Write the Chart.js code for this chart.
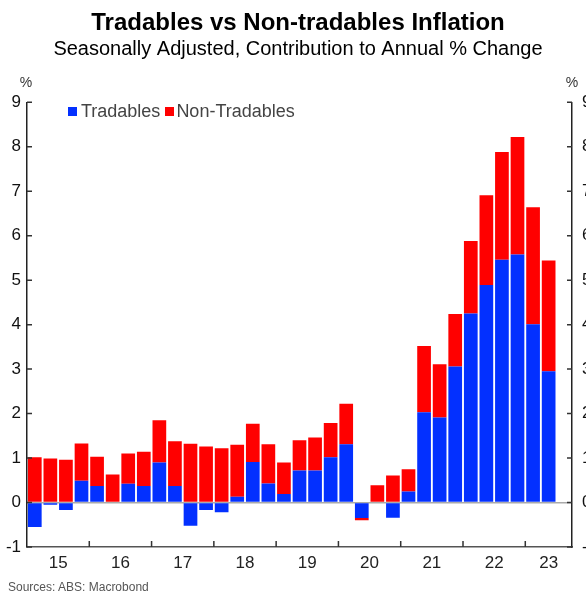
<!DOCTYPE html>
<html>
<head>
<meta charset="utf-8">
<script src="https://cdn.jsdelivr.net/npm/chart.js@4"></script>
<style>
    body { margin: 0; width: 586px; height: 592px; overflow: hidden; background: #fff; position: relative;
           font-family: "Liberation Sans", Arial, sans-serif; }
    #chart { position: absolute; left: 0; top: 0; }
    .unit { position: absolute; top: 74px; font-size: 14px; line-height: 16px; color: #333; transform: translateX(-50%); }
    #legend { position: absolute; left: 68px; top: 101px; font-size: 18px; line-height: 20px; color: #444;
              display: flex; align-items: center; white-space: nowrap; }
    .sw { display: inline-block; width: 9px; height: 9px; }
    #source { position: absolute; left: 8px; top: 580px; font-size: 12px; line-height: 14px; color: #555; }
</style>
</head>
<body>
<canvas id="chart" width="596" height="592"></canvas>
<div class="unit" style="left:26px">%</div>
<div class="unit" style="left:572px">%</div>
<div id="legend"></div>
<div id="source">Sources: ABS: Macrobond</div>
<script>
const quarters = [
    '2015Q1', '2015Q2', '2015Q3', '2015Q4',
    '2016Q1', '2016Q2', '2016Q3', '2016Q4',
    '2017Q1', '2017Q2', '2017Q3', '2017Q4',
    '2018Q1', '2018Q2', '2018Q3', '2018Q4',
    '2019Q1', '2019Q2', '2019Q3', '2019Q4',
    '2020Q1', '2020Q2', '2020Q3', '2020Q4',
    '2021Q1', '2021Q2', '2021Q3', '2021Q4',
    '2022Q1', '2022Q2', '2022Q3', '2022Q4',
    '2023Q1', '2023Q2'
];

const tradables = [
    -0.55, -0.05, -0.17, 0.49,
    0.37, 0.00, 0.42, 0.37,
    0.90, 0.37, -0.52, -0.17,
    -0.22, 0.13, 0.91, 0.43,
    0.19, 0.72, 0.72, 1.02,
    1.31, -0.35, 0.00, -0.34,
    0.25, 2.03, 1.91, 3.06,
    4.25, 4.89, 5.46, 5.58,
    4.01, 2.95
];

const nonTradables = [
    1.02, 0.99, 0.96, 0.84,
    0.66, 0.63, 0.68, 0.77,
    0.95, 1.01, 1.32, 1.26,
    1.22, 1.17, 0.86, 0.88,
    0.71, 0.68, 0.74, 0.77,
    0.91, -0.05, 0.39, 0.61,
    0.50, 1.49, 1.20, 1.18,
    1.63, 2.02, 2.42, 2.64,
    2.63, 2.49
];

const years = ['15', '16', '17', '18', '19', '20', '21', '22', '23'];
const seriesNames = ['Tradables', 'Non-Tradables'];
const seriesColors = ['rgb(3, 48, 255)', 'rgb(255, 0, 0)'];

// one empty quarter after the last bar
const xMax = quarters.length + 1;

// year label sits in the middle of its (visible) four quarters
const yearTicks = years.map((y, k) => (4 * k + Math.min(4 * k + 4, xMax)) / 2);
const yearBounds = years.slice(1).map((y, k) => 4 * (k + 1));

const toPoints = arr => arr.map((v, i) => ({ x: i + 0.5, y: v }));

const fontFamily = '"Liberation Sans", Arial, sans-serif';
Chart.defaults.font.family = fontFamily;

// legend (html)
const legendEl = document.getElementById('legend');
seriesNames.forEach((name, i) => {
    const sw = document.createElement('span');
    sw.className = 'sw';
    sw.style.background = seriesColors[i];
    sw.style.marginLeft = i ? '5px' : '0';
    sw.style.marginRight = i ? '2px' : '4px';
    const txt = document.createElement('span');
    txt.textContent = name;
    legendEl.appendChild(sw);
    legendEl.appendChild(txt);
});

// tick marks point into the plot
const tickMarks = {
    id: 'tickMarks',
    afterDatasetsDraw(chart) {
        const ctx = chart.ctx;
        const area = chart.chartArea;
        const y = chart.scales.y;
        const x = chart.scales.x;
        ctx.save();
        ctx.strokeStyle = '#333';
        ctx.lineWidth = 1.5;
        ctx.beginPath();
        for (let v = -1; v <= 9; v++) {
            const py = y.getPixelForValue(v);
            ctx.moveTo(area.left, py);
            ctx.lineTo(area.left + 5, py);
            ctx.moveTo(area.right - 5, py);
            ctx.lineTo(area.right, py);
        }
        for (const b of yearBounds) {
            const px = x.getPixelForValue(b);
            ctx.moveTo(px, area.bottom - 6);
            ctx.lineTo(px, area.bottom);
        }
        ctx.stroke();
        ctx.restore();
    }
};

const data = {
    datasets: [{
        label: seriesNames[0],
        data: toPoints(tradables),
        backgroundColor: seriesColors[0],
        borderWidth: 0
    }, {
        label: seriesNames[1],
        data: toPoints(nonTradables),
        backgroundColor: seriesColors[1],
        borderWidth: 0
    }]
};

const options = {
    responsive: false,
    animation: false,
    barPercentage: 0.88,
    categoryPercentage: 1,
    layout: { padding: 0 },
    plugins: {
        legend: { display: false },
        tooltip: { enabled: false },
        title: {
            display: true,
            text: 'Tradables vs Non-tradables Inflation',
            color: '#000',
            font: { size: 24, weight: 'bold' },
            padding: { top: 9, bottom: 0 }
        },
        subtitle: {
            display: true,
            text: 'Seasonally Adjusted, Contribution to Annual % Change',
            color: '#000',
            font: { size: 20 },
            padding: { top: 0, bottom: 40.5 }
        }
    },
    scales: {
        x: {
            type: 'linear',
            min: 0,
            max: xMax,
            stacked: true,
            offset: false,
            grid: { display: false, drawTicks: false },
            border: { display: true, color: '#555', width: 1.5 },
            afterBuildTicks: s => { s.ticks = yearTicks.map(v => ({ value: v })); },
            afterFit: s => { s.height = 45; },
            ticks: {
                autoSkip: false,
                maxRotation: 0,
                padding: 6,
                color: '#222',
                font: { size: 17 },
                callback: (v, i) => years[i]
            }
        },
        y: {
            position: 'left',
            min: -1,
            max: 9,
            stacked: true,
            grid: {
                drawTicks: false,
                lineWidth: 1.5,
                color: c => (c.tick && c.tick.value === 0) ? '#aaa' : 'rgba(0,0,0,0)'
            },
            border: { display: true, color: '#222', width: 1.5 },
            afterFit: s => { s.width = 27; },
            ticks: { stepSize: 1, padding: 6, color: '#111', font: { size: 17 } }
        },
        y2: {
            position: 'right',
            min: -1,
            max: 9,
            grid: { display: false, drawTicks: false },
            border: { display: true, color: '#222', width: 1.5 },
            afterFit: s => { s.width = 24; },
            ticks: { stepSize: 1, padding: 10, color: '#111', font: { size: 17 } }
        }
    }
};

const config = {
    type: 'bar',
    data,
    options,
    plugins: [tickMarks]
};

var myChart = new Chart(
    document.getElementById('chart'),
    config
);
</script>
</body>
</html>
